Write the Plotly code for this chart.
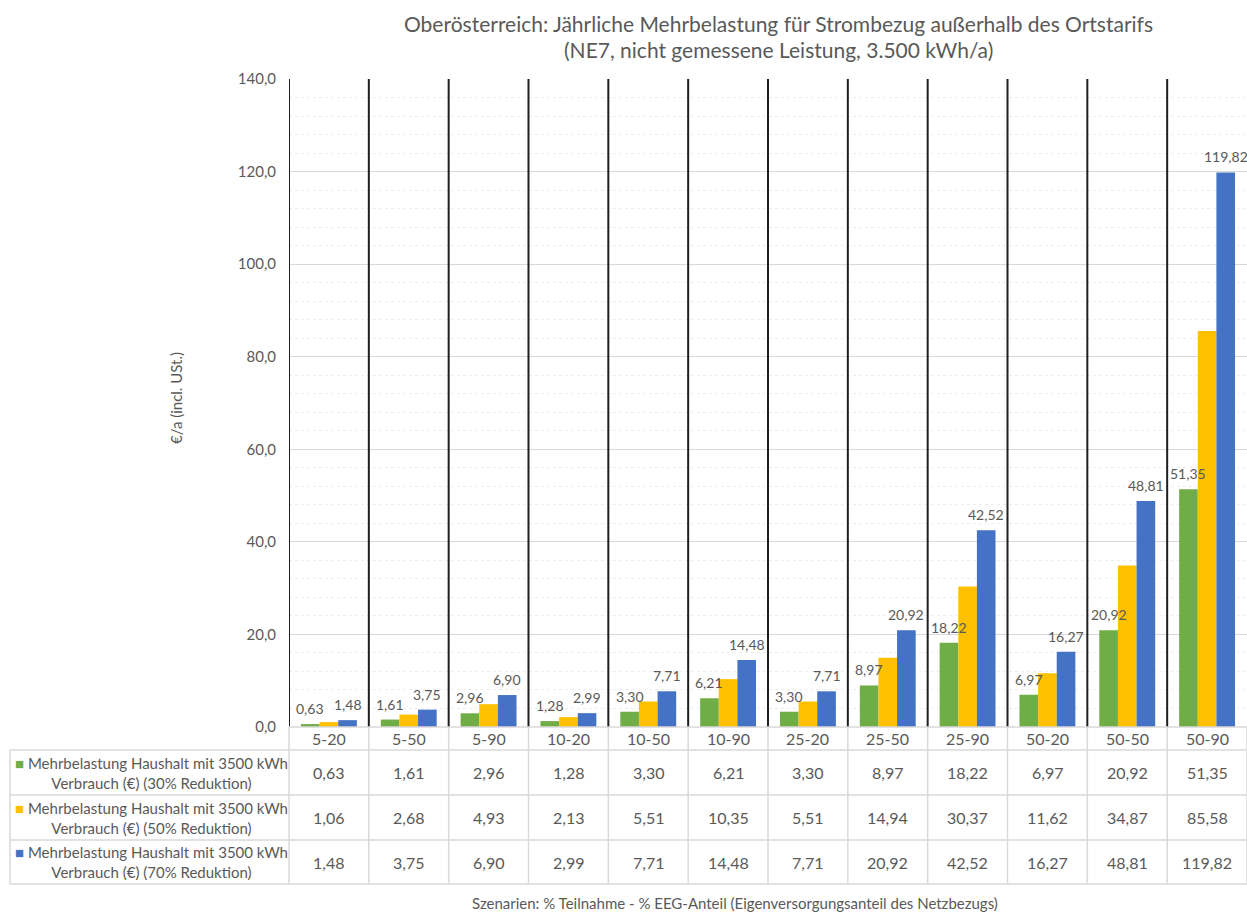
import plotly.graph_objects as go

categories = ["5-20", "5-50", "5-90", "10-20", "10-50", "10-90",
              "25-20", "25-50", "25-90", "50-20", "50-50", "50-90"]
red30 = [0.63, 1.61, 2.96, 1.28, 3.30, 6.21, 3.30, 8.97, 18.22, 6.97, 20.92, 51.35]
red50 = [1.06, 2.68, 4.93, 2.13, 5.51, 10.35, 5.51, 14.94, 30.37, 11.62, 34.87, 85.58]
red70 = [1.48, 3.75, 6.90, 2.99, 7.71, 14.48, 7.71, 20.92, 42.52, 16.27, 48.81, 119.82]
series_names = [
    "Mehrbelastung Haushalt mit 3500 kWh<br>Verbrauch (€) (30% Reduktion)",
    "Mehrbelastung Haushalt mit 3500 kWh<br>Verbrauch (€) (50% Reduktion)",
    "Mehrbelastung Haushalt mit 3500 kWh<br>Verbrauch (€) (70% Reduktion)",
]
colors = ["#70AD47", "#FFC000", "#4472C4"]
show_labels = [True, False, True]
title_lines = ["Oberösterreich: Jährliche Mehrbelastung für Strombezug außerhalb des Ortstarifs",
               "(NE7, nicht gemessene Leistung, 3.500 kWh/a)"]
y_title = "€/a (incl. USt.)"
x_title = "Szenarien: % Teilnahme - % EEG-Anteil (Eigenversorgungsanteil des Netzbezugs)"

FONT = "Lato"
GREY = "#595959"
W, H = 1247, 912
L, R, T, B = 289, 0, 79, 185
PW, PH = W - L - R, H - T - B
BARGAP = 0.30


def pyy(p):
    return (H - B - p) / PH


def pxx(p):
    return (p - L) / PW


fig = go.Figure()
all_series = [red30, red50, red70]
for vals, name, col in zip(all_series, series_names, colors):
    fig.add_trace(go.Bar(
        x=categories, y=vals, name=name, marker=dict(color=col, line=dict(width=0)),
        showlegend=False,
    ))

shapes = []
annotations = []
n = len(categories)


def ann(**kw):
    base = dict(showarrow=False, xanchor="center", yanchor="middle")
    base.update(kw)
    annotations.append(base)


# data labels above green and blue bars
cat_px = PW / n
bar_px = cat_px * (1 - BARGAP) / len(all_series)
for s, (vals, lab) in enumerate(zip(all_series, show_labels)):
    if not lab:
        continue
    off = (s - (len(all_series) - 1) / 2) * bar_px
    for i, v in enumerate(vals):
        ann(x=i, y=v, xref="x", yref="y", xshift=off, yanchor="bottom", yshift=5,
            text=f"{v:.2f}".replace(".", ","), font=dict(family=FONT, size=14, color=GREY))

# black separators in plot
for i in range(n):
    shapes.append(dict(type="line", xref="x", yref="paper", x0=i - 0.5, x1=i - 0.5,
                       y0=0, y1=1, line=dict(color="#1F1F1F", width=2), layer="above"))
# table
tcol = "#D9D9D9"
row_edges = [727, 750, 795, 840, 884]
tb = pyy(row_edges[-1])
for i in range(1, n):
    shapes.append(dict(type="line", xref="x", yref="paper", x0=i - 0.5, x1=i - 0.5,
                       y0=tb, y1=0, line=dict(color=tcol, width=1.5)))
shapes.append(dict(type="line", xref="paper", yref="paper", x0=0, x1=0, y0=tb, y1=0,
                   line=dict(color=tcol, width=1.5)))
shapes.append(dict(type="line", xref="paper", yref="paper", x0=1, x1=1, y0=tb, y1=0,
                   line=dict(color=tcol, width=1.5)))
shapes.append(dict(type="line", xref="paper", yref="paper", x0=pxx(10), x1=pxx(10),
                   y0=tb, y1=pyy(750), line=dict(color=tcol, width=1.5)))
shapes.append(dict(type="line", xref="paper", yref="paper", x0=0, x1=1, y0=0, y1=0,
                   line=dict(color=tcol, width=1.5)))
for e in row_edges[1:]:
    shapes.append(dict(type="line", xref="paper", yref="paper", x0=pxx(10), x1=1,
                       y0=pyy(e), y1=pyy(e), line=dict(color=tcol, width=1.5)))

# category labels
for i, c in enumerate(categories):
    ann(x=i, y=pyy((row_edges[0] + row_edges[1]) / 2), xref="x", yref="paper",
        text=c, font=dict(family=FONT, size=16, color=GREY))
# table values + row labels
for r, (vals, name, col) in enumerate(zip(all_series, series_names, colors)):
    yc = pyy((row_edges[r + 1] + row_edges[r + 2]) / 2)
    for i, v in enumerate(vals):
        ann(x=i, y=yc, xref="x", yref="paper", text=f"{v:.2f}".replace(".", ","),
            font=dict(family=FONT, size=16, color=GREY))
    ann(x=pxx(151), y=yc, xref="paper", yref="paper",
        text=f"<span style='color:{col}'>■</span> " + name, align="center",
        font=dict(family=FONT, size=15, color=GREY))

# titles
ann(x=pxx(778), y=pyy(23), xref="paper", yref="paper", text=title_lines[0],
    font=dict(family=FONT, size=21, color=GREY))
ann(x=pxx(778), y=pyy(50), xref="paper", yref="paper", text=title_lines[1],
    font=dict(family=FONT, size=21, color=GREY))
ann(x=pxx(176), y=pyy(398), xref="paper", yref="paper", text=y_title, textangle=-90,
    font=dict(family=FONT, size=15, color=GREY))
ann(x=pxx(735), y=pyy(903), xref="paper", yref="paper", text=x_title,
    font=dict(family=FONT, size=15, color=GREY))

fig.update_layout(
    width=W, height=H, margin=dict(l=L, r=R, t=T, b=B, autoexpand=False),
    paper_bgcolor="white", plot_bgcolor="white",
    barmode="group", bargap=BARGAP, bargroupgap=0,
    separators=",.",
    font=dict(family=FONT, color=GREY),
    shapes=shapes, annotations=annotations,
    xaxis=dict(type="category", range=[-0.5, n - 0.5], showticklabels=False, showgrid=False,
               zeroline=False, showline=False, ticks=""),
    yaxis=dict(range=[0, 140], dtick=20, tickformat=".1f", showgrid=True, gridcolor="#D9D9D9",
               gridwidth=1, zeroline=False, showline=False, ticks="",
               ticklabelstandoff=12, tickfont=dict(family=FONT, size=15, color=GREY),
               minor=dict(dtick=4, showgrid=True, gridcolor="#EDEDED", griddash="dot", gridwidth=1)),
)

fig.write_html("out.html")
